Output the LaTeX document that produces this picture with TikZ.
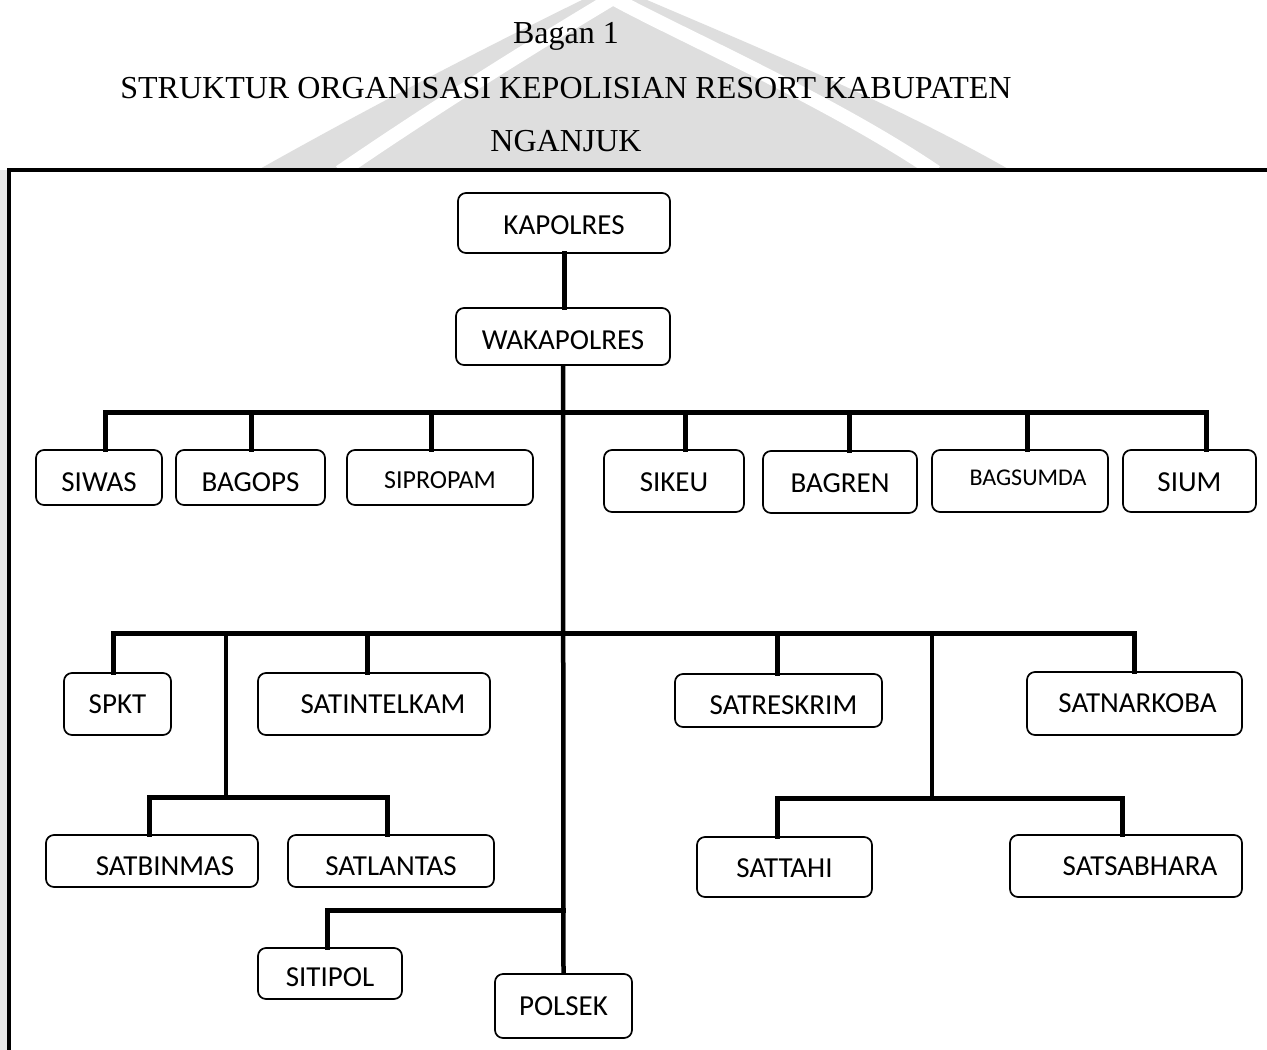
\documentclass[tikz,border=0pt]{standalone}
\usepackage{fontspec}
\setmainfont{Liberation Serif}
\newfontfamily\boxfamily{Carlito}
\newcommand{\lowertext}[2]{\raisebox{-#1}[\height][\depth]{#2}}
\begin{document}
\begin{tikzpicture}[x=1pt,y=-1pt,
  box/.style={draw, line width=1.7pt, rounded corners=8pt, inner sep=0pt,
    font=\boxfamily\fontsize{29}{32}\selectfont},
  smallbox/.style={box, font=\boxfamily\fontsize{26}{30}\selectfont},
  tinybox/.style={box, font=\boxfamily\fontsize{24}{28}\selectfont},
  conn/.style={line width=5pt, line join=miter, line cap=rect},
  trunk/.style={line width=4.5pt},
  frame/.style={line width=3.5pt, line join=miter},
  title/.style={font=\fontsize{32}{36}\selectfont, anchor=base},
  wm/.style={fill=black!13, draw=none}]
\useasboundingbox (0,0) rectangle (1267,1050);
\fill[white] (0,0) rectangle (1267,1050);
% faint watermark shape
\fill[wm] (258,170) .. controls (400,90) and (540,20) .. (613,-15) .. controls (690,20) and (870,90) .. (1010,170) -- cycle;
\draw[white, line width=14pt] (340,172) .. controls (460,90) and (560,30) .. (613,-2) .. controls (670,30) and (830,100) .. (936,172);
\fill[black!9] (0,170) rectangle (7,1050);

% titles
\node[title] (t1) at (566,43) {Bagan 1};
\node[title] (t2) at (566,98) {STRUKTUR ORGANISASI KEPOLISIAN RESORT KABUPATEN};
\node[title] (t3) at (566,151) {NGANJUK};

% frame
\draw[frame] (9,1052) -- (9,170) -- (1269,170);

% boxes
\node[box, minimum width=212pt, minimum height=60pt] (kap) at (564,223) {\lowertext{2pt}{KAPOLRES}};
\node[box, minimum width=214pt, minimum height=57pt] (wak) at (563,336.5) {\lowertext{3.5pt}{WAKAPOLRES}};

\node[box, minimum width=126pt, minimum height=55pt] (siwas) at (99,477.5) {\lowertext{5pt}{SIWAS}};
\node[box, minimum width=149pt, minimum height=55pt] (bagops) at (250.5,477.5) {\lowertext{5pt}{BAGOPS}};
\node[smallbox, minimum width=186pt, minimum height=55pt] (sipropam) at (440,477.5) {\lowertext{3pt}{SIPROPAM}};
\node[box, minimum width=140pt, minimum height=62pt] (sikeu) at (674,481) {\lowertext{1.5pt}{SIKEU}};
\node[box, minimum width=154pt, minimum height=62pt] (bagren) at (840,482) {\lowertext{1pt}{BAGREN}};
\node[tinybox, minimum width=176pt, minimum height=62pt] (bagsumda) at (1020,481) {\hspace*{16pt}\lowertext{-3pt}{BAGSUMDA}};
\node[box, minimum width=133pt, minimum height=62pt] (sium) at (1189.5,481) {\lowertext{1.5pt}{SIUM}};

\node[box, minimum width=107pt, minimum height=62pt] (spkt) at (117.5,704) {SPKT};
\node[box, minimum width=232pt, minimum height=62pt] (satintel) at (374,704) {\hspace*{18pt}SATINTELKAM};
\node[box, minimum width=207pt, minimum height=53pt] (satres) at (778.5,700.5) {\hspace*{10pt}\lowertext{4.5pt}{SATRESKRIM}};
\node[box, minimum width=215pt, minimum height=63pt] (satnark) at (1134.5,703.5) {\hspace*{6pt}SATNARKOBA};

\node[box, minimum width=212pt, minimum height=52pt] (satbin) at (152,861) {\hspace*{26pt}\lowertext{5pt}{SATBINMAS}};
\node[box, minimum width=206pt, minimum height=52pt] (satlan) at (391,861) {\lowertext{5pt}{SATLANTAS}};
\node[box, minimum width=175pt, minimum height=60pt] (sattahi) at (784.5,867) {\lowertext{1pt}{SATTAHI}};
\node[box, minimum width=232pt, minimum height=62pt] (satsab) at (1126,866) {\hspace*{28pt}SATSABHARA};

\node[box, minimum width=144pt, minimum height=51pt] (sitipol) at (330,973.5) {\lowertext{3.5pt}{SITIPOL}};
\node[box, minimum width=137pt, minimum height=64pt] (polsek) at (563.5,1006) {POLSEK};

% junction coordinates
\coordinate (d1) at (105,412);
\coordinate (d2) at (251,412);
\coordinate (d3) at (431,412);
\coordinate (d4) at (685,412);
\coordinate (d5) at (849,412);
\coordinate (d6) at (1027,412);
\coordinate (d7) at (1206,412);

\coordinate (e1) at (113,633);
\coordinate (e2) at (226,633);
\coordinate (e3) at (367,633);
\coordinate (e4) at (777,633);
\coordinate (e5) at (932,633);
\coordinate (e6) at (1134,633);

\coordinate (f0) at (226,797);
\coordinate (f1) at (149,797);
\coordinate (f2) at (387,797);
\coordinate (g0) at (932,798);
\coordinate (g1) at (777,798);
\coordinate (g2) at (1122,798);

\coordinate (h0) at (563,910);
\coordinate (h1) at (327,910);

% connectors
\draw[conn] (kap.south) -- (kap.south |- wak.north);
\draw[trunk] (wak.south) -- (polsek.north);

\draw[conn] (d1 |- siwas.north) -- (d1) -- (d7) -- (d7 |- sium.north);
\draw[conn] (d2) -- (d2 |- bagops.north);
\draw[conn] (d3) -- (d3 |- sipropam.north);
\draw[conn] (d4) -- (d4 |- sikeu.north);
\draw[conn] (d5) -- (d5 |- bagren.north);
\draw[conn] (d6) -- (d6 |- bagsumda.north);

\draw[conn] (e1 |- spkt.north) -- (e1) -- (e6) -- (e6 |- satnark.north);
\draw[trunk] (e2) -- (f0);
\draw[conn] (e3) -- (e3 |- satintel.north);
\draw[conn] (e4) -- (e4 |- satres.north);
\draw[trunk] (e5) -- (g0);

\draw[conn] (f1 |- satbin.north) -- (f1) -- (f2) -- (f2 |- satlan.north);
\draw[conn] (g1 |- sattahi.north) -- (g1) -- (g2) -- (g2 |- satsab.north);
\draw[conn] (h0) -- (h1) -- (h1 |- sitipol.north);
\end{tikzpicture}
\end{document}
